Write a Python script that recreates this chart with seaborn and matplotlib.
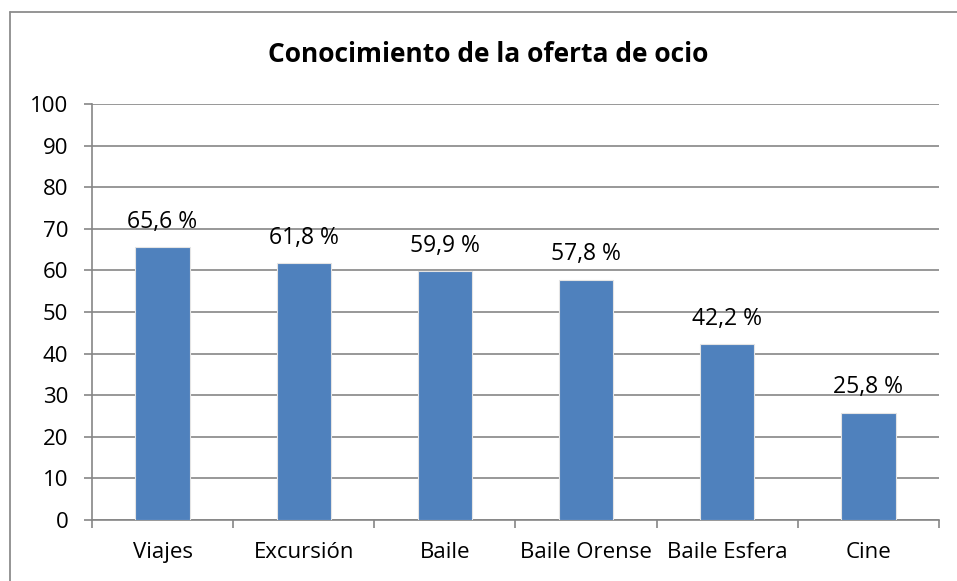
import matplotlib
matplotlib.use("Agg")
import matplotlib.pyplot as plt
import seaborn as sns
import pandas as pd
from matplotlib.lines import Line2D

# datos
categorias = ["Viajes", "Excursión", "Baile", "Baile Orense", "Baile Esfera", "Cine"]
porcentajes = [65.6, 61.8, 59.9, 57.8, 42.2, 25.8]
etiquetas = ["65,6 %", "61,8 %", "59,9 %", "57,8 %", "42,2 %", "25,8 %"]
yticks = list(range(0, 101, 10))

df = pd.DataFrame({"categoria": categorias, "valor": porcentajes})

sns.set_style("white")
plt.rcParams["font.family"] = ["Open Sans", "DejaVu Sans"]
plt.rcParams["text.color"] = "black"
plt.rcParams["xtick.labelcolor"] = "black"
plt.rcParams["ytick.labelcolor"] = "black"

fig = plt.figure(figsize=(9.57, 5.81), dpi=100)
ax = fig.add_axes([0.0961, 0.105, 0.885, 0.716])

sns.barplot(data=df, x="categoria", y="valor", color="#4F81BD", saturation=1,
            width=0.385, ax=ax, zorder=3, edgecolor="#e4e4e4", linewidth=0.8)

# borde gris del gráfico (solo arriba e izquierda quedan dentro de la imagen)
x0, y0 = 9.5 / 957, 1 - 11.5 / 581
fig.add_artist(Line2D([x0, 1], [y0, y0], transform=fig.transFigure,
                      color="#8c8c8c", linewidth=1.3))
fig.add_artist(Line2D([x0, x0], [0, y0], transform=fig.transFigure,
                      color="#8c8c8c", linewidth=1.3))

ax.set_ylim(0, 100)
ax.set_xlim(-0.5, len(categorias) - 0.5)
ax.set_yticks(yticks)
ax.yaxis.grid(True, color="#868686", linewidth=1.2, zorder=0)
ax.set_axisbelow(True)
for s in ["top", "right"]:
    ax.spines[s].set_visible(False)
for s in ["left", "bottom"]:
    ax.spines[s].set_color("#868686")
    ax.spines[s].set_linewidth(1.2)

ax.set_xticks([i - 0.5 for i in range(len(categorias) + 1)], minor=True)
ax.set_xticks(range(len(categorias)))
ax.set_xticklabels(categorias)
ax.tick_params(axis="x", which="major", length=0, labelsize=16, pad=16)
ax.tick_params(axis="x", which="minor", length=6, color="#868686", width=1.2,
               direction="out", bottom=True)
ax.tick_params(axis="y", length=6, color="#868686", width=1.2, left=True,
               labelsize=16, pad=11)
ax.set_xlabel("")
ax.set_ylabel("")

for i, (v, t) in enumerate(zip(porcentajes, etiquetas)):
    ax.text(i, v + 3.2, t, ha="center", va="bottom", fontsize=16.5)

fig.text(488 / 957, 1 - 62 / 581, "Conocimiento de la oferta de ocio", ha="center",
         va="baseline", fontsize=19, fontweight="bold")

fig.savefig("out.png", dpi=100)
